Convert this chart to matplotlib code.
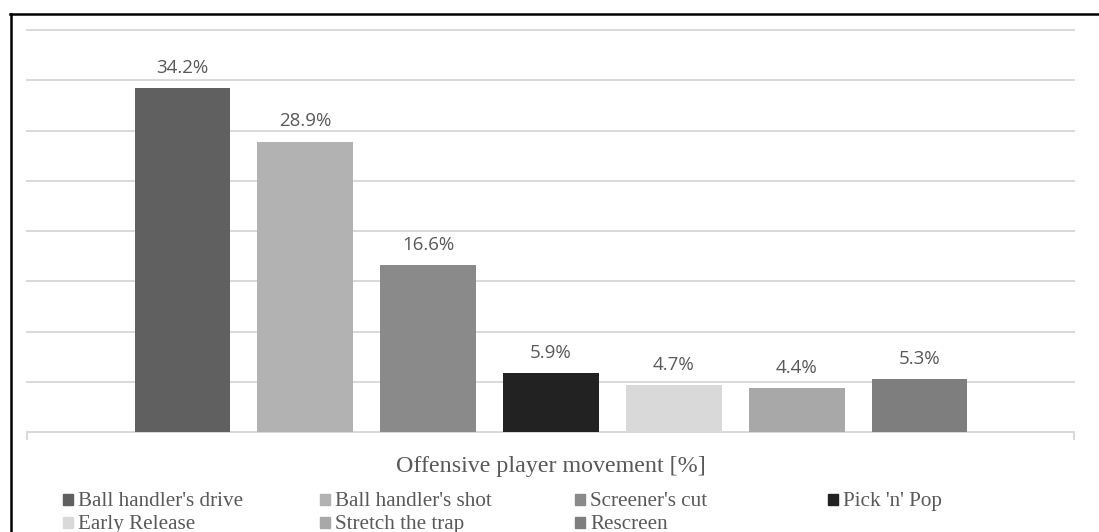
import matplotlib.pyplot as plt
from matplotlib.lines import Line2D
from matplotlib.patches import Rectangle

# 各类进攻球员移动方式的占比
movements = ["Ball handler's drive", "Ball handler's shot", "Screener's cut",
             "Pick 'n' Pop", "Early Release", "Stretch the trap", "Rescreen"]
shares = [34.2, 28.9, 16.6, 5.9, 4.7, 4.4, 5.3]
colors = ["#606060", "#b2b2b2", "#8a8a8a", "#222222", "#d9d9d9", "#a8a8a8", "#7e7e7e"]
grid_values = [5, 10, 15, 20, 25, 30, 35, 40]

W, H = 1099, 532
fig = plt.figure(figsize=(W / 100, H / 100), dpi=100)
ax = fig.add_axes([27 / W, 1 - 432 / H, 1047 / W, 402 / H])

x = list(range(len(shares)))
bars = ax.bar(x, shares, width=0.78, color=colors, zorder=3)
ax.bar_label(bars, labels=[f"{v:.1f}%" for v in shares], padding=8,
             fontsize=13.5, family="Open Sans", color="#595959")

# 水平网格线
for g in grid_values:
    ax.axhline(g, color="#d9d9d9", lw=1.4, zorder=1, clip_on=False)

ax.set_xlim(-1.266, 7.258)
ax.set_ylim(0, 40)
for side in ["top", "left", "right"]:
    ax.spines[side].set_visible(False)
ax.spines["bottom"].set_color("#d9d9d9")
ax.spines["bottom"].set_linewidth(1.4)
ax.set_yticks([])
ax.set_xticks([-1.266, 7.258])
ax.set_xticklabels(["", ""])
ax.tick_params(axis="x", direction="out", length=6, width=1.4, color="#d9d9d9")

# 坐标轴标题
fig.text(551 / W, 1 - 472 / H, "Offensive player movement [%]", ha="center",
         va="baseline", fontsize=17.3, family="Liberation Serif", color="#595959")

# 图例（两行四列）
col_x = [63, 320, 575, 828]
row_y = [506, 529]
for i, (name, c) in enumerate(zip(movements, colors)):
    r, k = divmod(i, 4)
    px, py = col_x[k], row_y[r]
    fig.patches.append(Rectangle((px / W, 1 - (py - 1) / H), 10 / W, 11 / H,
                                 transform=fig.transFigure, color=c))
    fig.text((px + 15) / W, 1 - py / H, name, ha="left", va="baseline",
             fontsize=15.2, family="Liberation Serif", color="#595959")

# 外边框
fig.lines.append(Line2D([11 / W, 11 / W], [0, 1 - 14 / H], transform=fig.transFigure,
                        color="black", lw=1.8))
fig.lines.append(Line2D([10 / W, 1], [1 - 14 / H, 1 - 14 / H], transform=fig.transFigure,
                        color="black", lw=1.8))

fig.savefig("out.png", dpi=100)
